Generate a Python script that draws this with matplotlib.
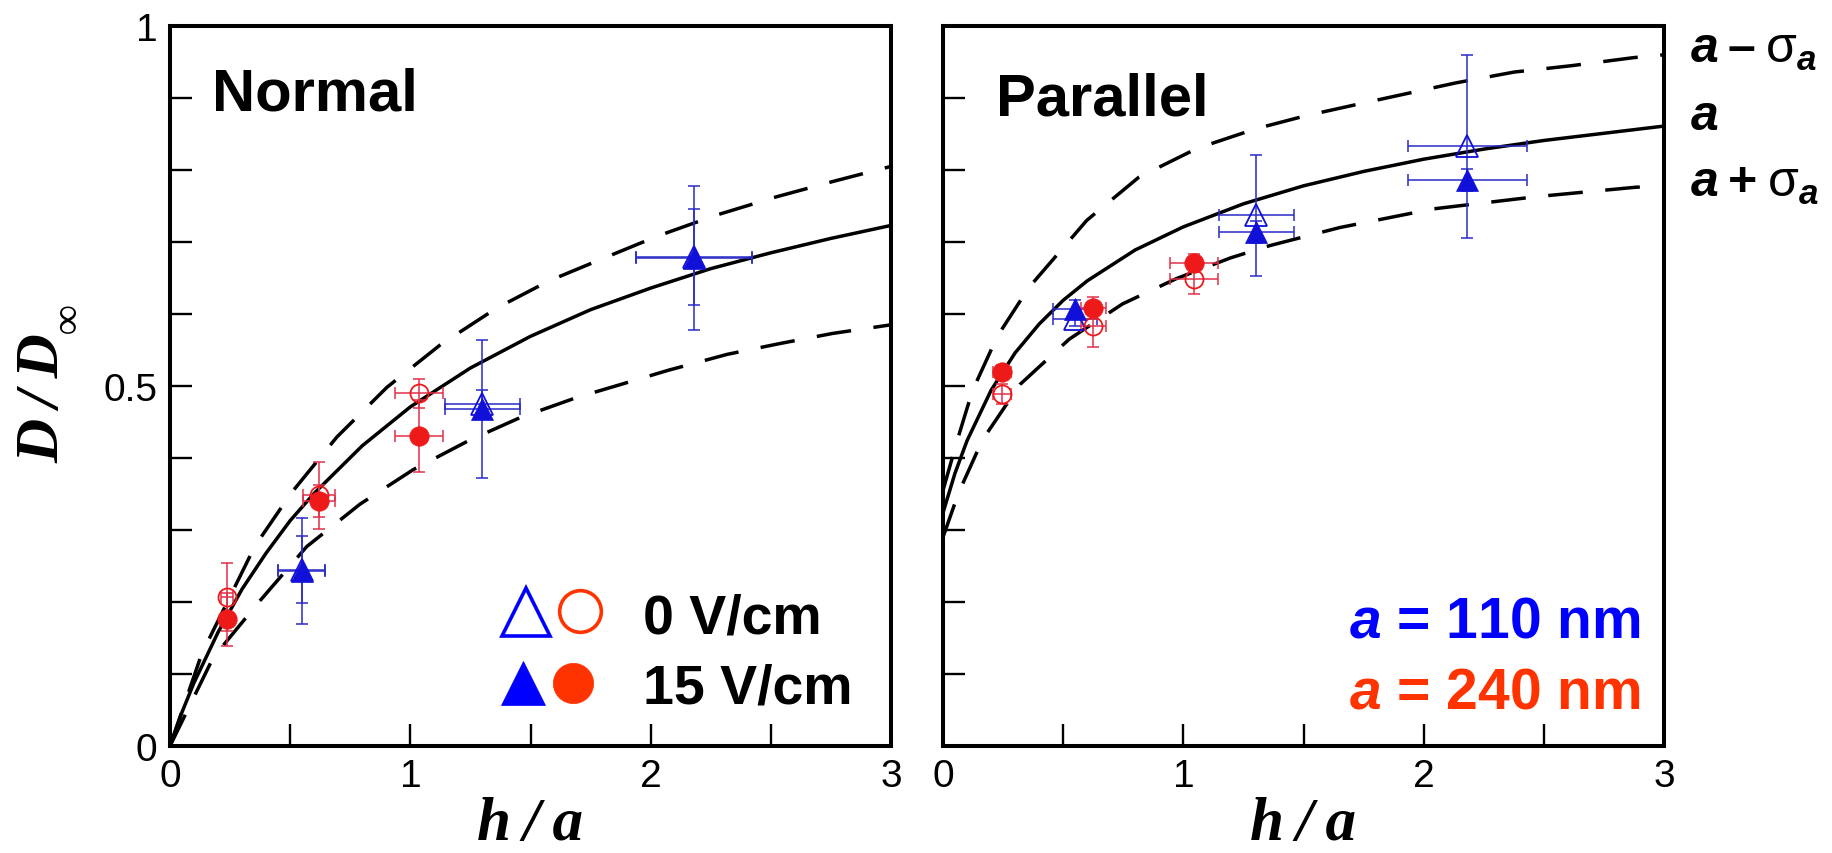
import matplotlib
matplotlib.use('Agg')
import matplotlib.pyplot as plt
from matplotlib.ticker import FixedLocator, NullFormatter, FixedFormatter

plt.rcParams['font.family'] = ['Liberation Sans', 'DejaVu Sans']
plt.rcParams['mathtext.fontset'] = 'custom'
plt.rcParams['mathtext.it'] = 'Liberation Sans:italic:bold'
plt.rcParams['mathtext.rm'] = 'Liberation Sans'
plt.rcParams['mathtext.bf'] = 'Liberation Sans:bold'

# ---------------- data ----------------
# Normal panel: theory curves
normal_fit_x = [0, 0.05, 0.1, 0.2, 0.3, 0.4, 0.5, 0.6, 0.8, 1.0, 1.25, 1.5, 1.75, 2.0, 2.25, 2.5, 2.75, 3.0]
normal_fit_y = [0, 0.047, 0.088, 0.158, 0.218, 0.268, 0.313, 0.351, 0.417, 0.471, 0.525, 0.569, 0.606, 0.636, 0.663, 0.685, 0.705, 0.723]
normal_up_x = [0, 0.132, 0.354, 0.506, 0.694, 0.902, 1.124, 1.358, 1.577, 1.808, 2.027, 2.27, 2.526, 2.769, 3.0]
normal_up_y = [0, 0.128, 0.278, 0.352, 0.429, 0.498, 0.557, 0.608, 0.646, 0.678, 0.708, 0.737, 0.763, 0.785, 0.805]
normal_lo_x = [0, 0.18, 0.375, 0.569, 0.791, 1.013, 1.242, 1.456, 1.692, 1.844, 2.075, 2.319, 2.538, 2.757, 3.0]
normal_lo_y = [0, 0.123, 0.202, 0.277, 0.336, 0.384, 0.424, 0.456, 0.484, 0.499, 0.522, 0.544, 0.559, 0.573, 0.585]

# Normal panel: measurements  (a = 110 nm triangles, a = 240 nm circles)
n_tri_x = [0.548, 1.30, 2.18]
n_tri_xerr = [0.097, 0.157, 0.243]
n_tri0_y = [0.245, 0.475, 0.679]
n_tri0_yerr = [0.046, 0.019, 0.067]
n_tri15_y = [0.243, 0.468, 0.678]
n_tri15_yerr = [0.073, 0.096, 0.100]
n_cir_x = [0.239, 0.620, 1.037]
n_cir_xerr = [0.025, 0.066, 0.100]
n_cir0_y = [0.207, 0.348, 0.490]
n_cir0_yerr = [0.047, 0.047, 0.020]
n_cir15_y = [0.176, 0.340, 0.431]
n_cir15_yerr = [0.037, 0.022, 0.050]

# Parallel panel: theory curves
par_fit_x = [0, 0.05, 0.1, 0.2, 0.3, 0.4, 0.5, 0.6, 0.8, 1.0, 1.25, 1.5, 1.75, 2.0, 2.25, 2.5, 2.75, 3.0]
par_fit_y = [0.324, 0.379, 0.424, 0.494, 0.546, 0.586, 0.619, 0.646, 0.689, 0.721, 0.753, 0.778, 0.798, 0.815, 0.829, 0.841, 0.851, 0.861]
par_up_x = [0, 0.057, 0.122, 0.226, 0.358, 0.598, 0.815, 1.057, 1.299, 1.505, 1.735, 1.928, 2.134, 2.376, 2.618, 2.872, 3.0]
par_up_y = [0.355, 0.422, 0.493, 0.569, 0.637, 0.730, 0.790, 0.830, 0.857, 0.875, 0.892, 0.906, 0.921, 0.936, 0.945, 0.956, 0.960]
par_lo_x = [0, 0.064, 0.164, 0.320, 0.525, 0.747, 0.970, 1.197, 1.36, 1.65, 2.04, 2.47, 2.88, 3.0]
par_lo_y = [0.290, 0.351, 0.425, 0.502, 0.565, 0.614, 0.649, 0.678, 0.695, 0.720, 0.746, 0.763, 0.776, 0.778]

# Parallel panel: measurements
p_tri_x = [0.549, 1.304, 2.182]
p_tri_xerr = [0.092, 0.157, 0.247]
p_tri0_y = [0.593, 0.737, 0.833]
p_tri0_yerr = [0.010, 0.084, 0.127]
p_tri15_y = [0.607, 0.714, 0.786]
p_tri15_yerr = [0.012, 0.015, 0.015]
p_cir_x = [0.247, 0.625, 1.045]
p_cir_xerr = [0.038, 0.052, 0.100]
p_cir0_y = [0.489, 0.584, 0.648]
p_cir0_yerr = [0.014, 0.030, 0.020]
p_cir15_y = [0.519, 0.608, 0.671]
p_cir15_yerr = [0.010, 0.015, 0.012]

x_major = [0, 1, 2, 3]
x_minor = [0.5, 1.5, 2.5]
x_labels = ['0', '1', '2', '3']
y_major = [0, 0.5, 1]
y_minor = [0.1, 0.2, 0.3, 0.4, 0.6, 0.7, 0.8, 0.9]
y_labels = ['0', '0.5', '1']

# ---------------- style ----------------
BLUE_M = '#1010d8'
BLUE_E = '#2a2ac8'
RED_M = '#ee1a1a'
RED_E = '#e0304a'
LEG_BLUE = '#0000ff'
LEG_RED = '#ff3300'

W, H = 1833, 854
fig = plt.figure(figsize=(W / 100, H / 100), dpi=100)


def px_axes(x0, y0, x1, y1):
    return fig.add_axes([x0 / W, 1 - y1 / H, (x1 - x0) / W, (y1 - y0) / H])


axL = px_axes(170, 27, 891, 747)
axR = px_axes(943, 27, 1664, 747)

for ax in (axL, axR):
    ax.set_xlim(0, 3)
    ax.set_ylim(0, 1)
    ax.xaxis.set_major_locator(FixedLocator(x_major))
    ax.xaxis.set_minor_locator(FixedLocator(x_minor))
    ax.xaxis.set_major_formatter(FixedFormatter(x_labels))
    ax.xaxis.set_minor_formatter(NullFormatter())
    ax.yaxis.set_major_locator(FixedLocator(y_major))
    ax.yaxis.set_minor_locator(FixedLocator(y_minor))
    ax.yaxis.set_minor_formatter(NullFormatter())
    ax.tick_params(which='both', direction='in', length=15.8, width=1.7,
                   top=False, right=False, labelsize=28, pad=9, colors='black')
    for s in ax.spines.values():
        s.set_linewidth(2.9)

axL.yaxis.set_major_formatter(FixedFormatter(y_labels))
axR.yaxis.set_major_formatter(NullFormatter())

DASH = (0, (10, 6.5))


def draw_panel(ax, fx, fy, ux, uy, lx, ly,
               tx, txe, t0y, t0e, t15y, t15e,
               cx, cxe, c0y, c0e, c15y, c15e):
    ax.plot(fx, fy, color='black', lw=2.5, zorder=2, solid_capstyle='butt')
    ax.plot(ux, uy, color='black', lw=2.5, linestyle=DASH, zorder=2)
    ax.plot(lx, ly, color='black', lw=2.5, linestyle=DASH, zorder=2)
    ekw = dict(fmt='none', elinewidth=1.1, capsize=4.5, capthick=1.1, zorder=3)
    ax.errorbar(tx, t0y, xerr=txe, yerr=t0e, ecolor=BLUE_E, **ekw)
    ax.errorbar(tx, t15y, xerr=txe, yerr=t15e, ecolor=BLUE_E, **ekw)
    ax.errorbar(cx, c0y, xerr=cxe, yerr=c0e, ecolor=RED_E, **ekw)
    ax.errorbar(cx, c15y, xerr=cxe, yerr=c15e, ecolor=RED_E, **ekw)
    ax.plot(tx, t0y, linestyle='none', marker='^', ms=16, mfc='none', mec=BLUE_M, mew=1.3, zorder=4)
    ax.plot(cx, c0y, linestyle='none', marker='o', ms=13, mfc='none', mec=RED_M, mew=1.3, zorder=4)
    ax.plot(tx, t15y, linestyle='none', marker='^', ms=16, mfc=BLUE_M, mec=BLUE_M, mew=0.5, zorder=5)
    ax.plot(cx, c15y, linestyle='none', marker='o', ms=14, mfc=RED_M, mec=RED_M, mew=0.5, zorder=5)


draw_panel(axL, normal_fit_x, normal_fit_y, normal_up_x, normal_up_y, normal_lo_x, normal_lo_y,
           n_tri_x, n_tri_xerr, n_tri0_y, n_tri0_yerr, n_tri15_y, n_tri15_yerr,
           n_cir_x, n_cir_xerr, n_cir0_y, n_cir0_yerr, n_cir15_y, n_cir15_yerr)
draw_panel(axR, par_fit_x, par_fit_y, par_up_x, par_up_y, par_lo_x, par_lo_y,
           p_tri_x, p_tri_xerr, p_tri0_y, p_tri0_yerr, p_tri15_y, p_tri15_yerr,
           p_cir_x, p_cir_xerr, p_cir0_y, p_cir0_yerr, p_cir15_y, p_cir15_yerr)

# panel titles
axL.text(0.0583, 0.8847, 'Normal', transform=axL.transAxes, fontsize=43,
         fontweight='bold', va='baseline', ha='left')
axR.text(0.0742, 0.8768, 'Parallel', transform=axR.transAxes, fontsize=43,
         fontweight='bold', va='baseline', ha='left')

# legend (left panel), drawn by hand
T = axL.transAxes
axL.plot([0.4938], [0.1868], transform=T, marker='^', ms=34, mfc='white', mec=LEG_BLUE, mew=2.6,
         linestyle='none', clip_on=False, zorder=6)
axL.plot([0.5687], [0.1879], transform=T, marker='o', ms=30, mfc='white', mec=LEG_RED, mew=2.6,
         linestyle='none', clip_on=False, zorder=6)
axL.plot([0.4896], [0.0875], transform=T, marker='^', ms=32, mfc=LEG_BLUE, mec=LEG_BLUE, mew=0.5,
         linestyle='none', clip_on=False, zorder=6)
axL.plot([0.5594], [0.0871], transform=T, marker='o', ms=29, mfc=LEG_RED, mec=LEG_RED, mew=0.5,
         linestyle='none', clip_on=False, zorder=6)
axL.text(0.656, 0.158, '0 V/cm', transform=T, fontsize=40, fontweight='bold', va='baseline', ha='left')
axL.text(0.656, 0.0611, '15 V/cm', transform=T, fontsize=40, fontweight='bold', va='baseline', ha='left')

# particle radius labels (right panel)
axR.text(0.968, 0.1514, r'$a$ = 110 nm', transform=axR.transAxes, fontsize=41, fontweight='bold',
         color=LEG_BLUE, va='baseline', ha='right')
axR.text(0.968, 0.0528, r'$a$ = 240 nm', transform=axR.transAxes, fontsize=41, fontweight='bold',
         color=LEG_RED, va='baseline', ha='right')

# curve labels on the right
fig.text(1690 / W, 1 - 63 / H, '$a$\u2009\u2013\u2009$\\mathrm{\\sigma}_{a}$', fontsize=36,
         fontweight='bold', va='baseline', ha='left')
fig.text(1690 / W, 1 - 130 / H, r'$a$', fontsize=36, fontweight='bold', va='baseline', ha='left')
fig.text(1690 / W, 1 - 197 / H, '$a$\u2009+\u2009$\\mathrm{\\sigma}_{a}$', fontsize=36,
         fontweight='bold', va='baseline', ha='left')

# axis labels
serif = ['Liberation Serif', 'DejaVu Serif']
for cx in (530.5, 1303.5):
    fig.text(cx / W, 14 / H, 'h\u2009/\u2009a', family=serif, fontweight='bold', style='italic',
             fontsize=44, ha='center', va='baseline')
fig.text(43 / W, 1 - 398 / H, 'D\u2009/\u2009D', family=serif, fontweight='bold', style='italic',
         fontsize=44, rotation=90, ha='center', va='center')
fig.text(70 / W, 1 - 318 / H, '\u221e', family=serif, fontweight='bold',
         fontsize=30, rotation=90, ha='center', va='center')

fig.savefig('out.png', dpi=100, facecolor='white')
